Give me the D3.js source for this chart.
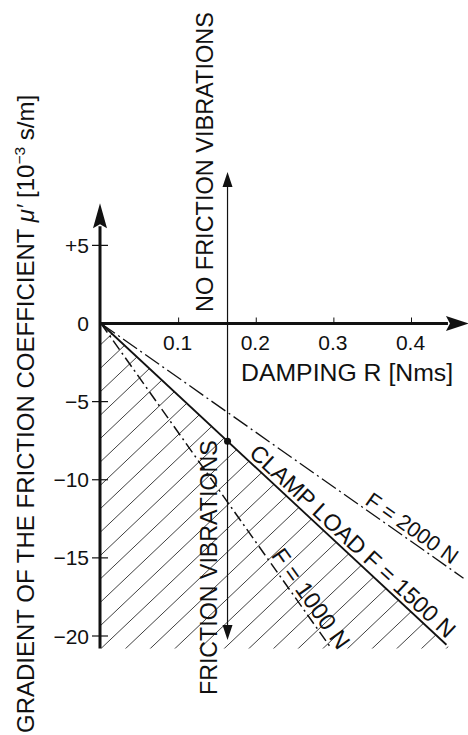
<!DOCTYPE html>
<html>
<head>
<meta charset="utf-8">
<script src="https://cdn.jsdelivr.net/npm/d3@7"></script>
<style>
  html, body { margin: 0; padding: 0; background: #fff; }
  svg { display: block; }
  text { font-family: "Liberation Sans", Arial, Helvetica, sans-serif; fill: #111; }
</style>
</head>
<body>
<svg id="chart" width="468" height="735"></svg>
<script>
// Axis ticks
const xTicks = [0.1, 0.2, 0.3, 0.4];
const xTickLabels = ["0.1", "0.2", "0.3", "0.4"];
const yTicks = [5, 0, -5, -10, -15, -20];
const yTickLabels = ["+5", "0", "\u22125", "\u221210", "\u221215", "\u221220"];

// Stability boundary lines, one per clamp load: end point of each line (from the origin)
const loadForce = [1000, 1500, 2000];
const loadLabels = ["F = 1000 N", "CLAMP LOAD F = 1500 N", "F = 2000 N"];
const loadEndR = [0.296, 0.445, 0.467];
const loadEndMu = [-20.75, -20.56, -16.3];
const loadLabelStartR = [0.214, 0.186, 0.336];

// Damping at the marked operating point
const boundaryR = 0.163;

// Axis extents
const xAxisEnd = 0.474, yAxisTop = 7.7, yAxisBottom = -20.8;

const svg = d3.select("#chart");
const x = d3.scaleLinear().domain([0, 0.4]).range([101, 411.5]);
const y = d3.scaleLinear().domain([0, -20]).range([323.5, 636]);
const ink = "#111";

const slopeOf = i => loadEndMu[i] / loadEndR[i];
const clampIdx = 1; // 1500 N bounds the hatched region

// Hatched region: friction vibrations below the 1500 N boundary
const regionBottomR = yAxisBottom / slopeOf(clampIdx);
const region = [[0, 0], [regionBottomR, yAxisBottom], [0, yAxisBottom]];
svg.append("clipPath").attr("id", "hatchClip")
  .append("path")
  .attr("d", "M" + region.map(p => [x(p[0]), y(p[1])].join(",")).join("L") + "Z");

const hatch = svg.append("g").attr("clip-path", "url(#hatchClip)");
const m = Math.tan(43.5 * Math.PI / 180);
const x0 = x(0), yb = y(yAxisBottom);
const step = 23.4;
for (let c = yb - Math.floor((yb - y(0)) / step) * step; c < yb + m * 420; c += step) {
  hatch.append("line")
    .attr("x1", x0).attr("y1", c)
    .attr("x2", x0 + 420).attr("y2", c - m * 420)
    .attr("stroke", "#2a2a2a").attr("stroke-width", 0.9);
}

// Boundary lines
const dashes = ["11,4,2,4", null, "17,4,2,4"];
const widths = [1.5, 1.8, 1.3];
loadForce.forEach((f, i) => {
  svg.append("line")
    .attr("x1", x(0)).attr("y1", y(0))
    .attr("x2", x(loadEndR[i])).attr("y2", y(loadEndMu[i]))
    .attr("stroke", ink).attr("stroke-width", widths[i])
    .attr("stroke-dasharray", dashes[i]);
});

// Labels along the boundary lines
const labelSizes = [23.5, 23.2, 21.5];
loadForce.forEach((f, i) => {
  const r0 = loadLabelStartR[i];
  const px = x(r0), py = y(slopeOf(i) * r0);
  const ang = Math.atan2(y(loadEndMu[i]) - y(0), x(loadEndR[i]) - x(0)) * 180 / Math.PI;
  svg.append("text")
    .attr("transform", `translate(${px},${py}) rotate(${ang})`)
    .attr("dy", -4)
    .attr("font-size", labelSizes[i])
    .text(loadLabels[i]);
});

// X axis
const yAx = y(0);
const xArrowTip = x(xAxisEnd), xArrowBase = xArrowTip - 23;
svg.append("line")
  .attr("x1", x(0) - 2).attr("y1", yAx).attr("x2", xArrowBase + 2).attr("y2", yAx)
  .attr("stroke", ink).attr("stroke-width", 3);
svg.append("path")
  .attr("d", `M${xArrowTip},${yAx}L${xArrowBase},${yAx - 7.5}L${xArrowBase + 4},${yAx}L${xArrowBase},${yAx + 7.5}Z`)
  .attr("fill", ink);
svg.selectAll(".xtick").data(xTicks).join("line")
  .attr("x1", d => x(d)).attr("x2", d => x(d))
  .attr("y1", yAx - 6).attr("y2", yAx)
  .attr("stroke", ink).attr("stroke-width", 1);
svg.selectAll(".xlab").data(xTicks).join("text")
  .attr("x", d => x(d) - 1).attr("y", 350)
  .attr("text-anchor", "middle").attr("font-size", 21)
  .text((d, i) => xTickLabels[i]);
svg.append("text").attr("x", 241).attr("y", 381)
  .attr("font-size", 24.8).text("DAMPING R [Nms]");

// Y axis
const xAx = x(0) - 1;
const yArrowTip = y(yAxisTop), yArrowBase = yArrowTip + 25;
svg.append("line")
  .attr("x1", xAx).attr("y1", y(yAxisBottom)).attr("x2", xAx).attr("y2", yArrowBase - 2)
  .attr("stroke", ink).attr("stroke-width", 3);
svg.append("path")
  .attr("d", `M${xAx},${yArrowTip}L${xAx - 7},${yArrowBase}L${xAx},${yArrowBase - 4}L${xAx + 7},${yArrowBase}Z`)
  .attr("fill", ink);
svg.selectAll(".ytick").data(yTicks.filter(d => d !== 0)).join("line")
  .attr("x1", xAx - 8).attr("x2", xAx + 8)
  .attr("y1", d => y(d)).attr("y2", d => y(d))
  .attr("stroke", ink).attr("stroke-width", 1.2);
svg.selectAll(".ylab").data(yTicks).join("text")
  .attr("x", 89).attr("y", d => y(d) + 7.5)
  .attr("text-anchor", "end").attr("font-size", 21)
  .text((d, i) => yTickLabels[i]);

// Y axis title
const yTitle = svg.append("text")
  .attr("transform", "translate(34,733) rotate(-90)")
  .attr("font-size", 24);
yTitle.append("tspan").text("GRADIENT OF THE FRICTION COEFFICIENT ");
yTitle.append("tspan").attr("font-style", "italic").text("\u03bc\u2032");
yTitle.append("tspan").text(" [10");
yTitle.append("tspan").attr("dy", -9).attr("font-size", 15.5).text("\u22123");
yTitle.append("tspan").attr("dy", 9).text(" s/m]");

// Vertical boundary at the marked damping value, with arrows both ways
const xb = x(boundaryR);
const vTop = 172, vBot = 640;
svg.append("line")
  .attr("x1", xb).attr("x2", xb).attr("y1", vTop + 10).attr("y2", vBot - 10)
  .attr("stroke", ink).attr("stroke-width", 1.2);
svg.append("path")
  .attr("d", `M${xb},${vTop}L${xb - 5},${vTop + 15}L${xb + 5},${vTop + 15}Z`).attr("fill", ink);
svg.append("path")
  .attr("d", `M${xb},${vBot}L${xb - 5},${vBot - 15}L${xb + 5},${vBot - 15}Z`).attr("fill", ink);
svg.append("circle")
  .attr("cx", xb).attr("cy", y(slopeOf(clampIdx) * boundaryR))
  .attr("r", 3.5).attr("fill", ink);

svg.append("text")
  .attr("transform", "translate(213,312) rotate(-90)")
  .attr("font-size", 23.5).text("NO FRICTION VIBRATIONS");
svg.append("text")
  .attr("transform", "translate(217,695) rotate(-90)")
  .attr("font-size", 23.2).text("FRICTION VIBRATIONS");
</script>
</body>
</html>
